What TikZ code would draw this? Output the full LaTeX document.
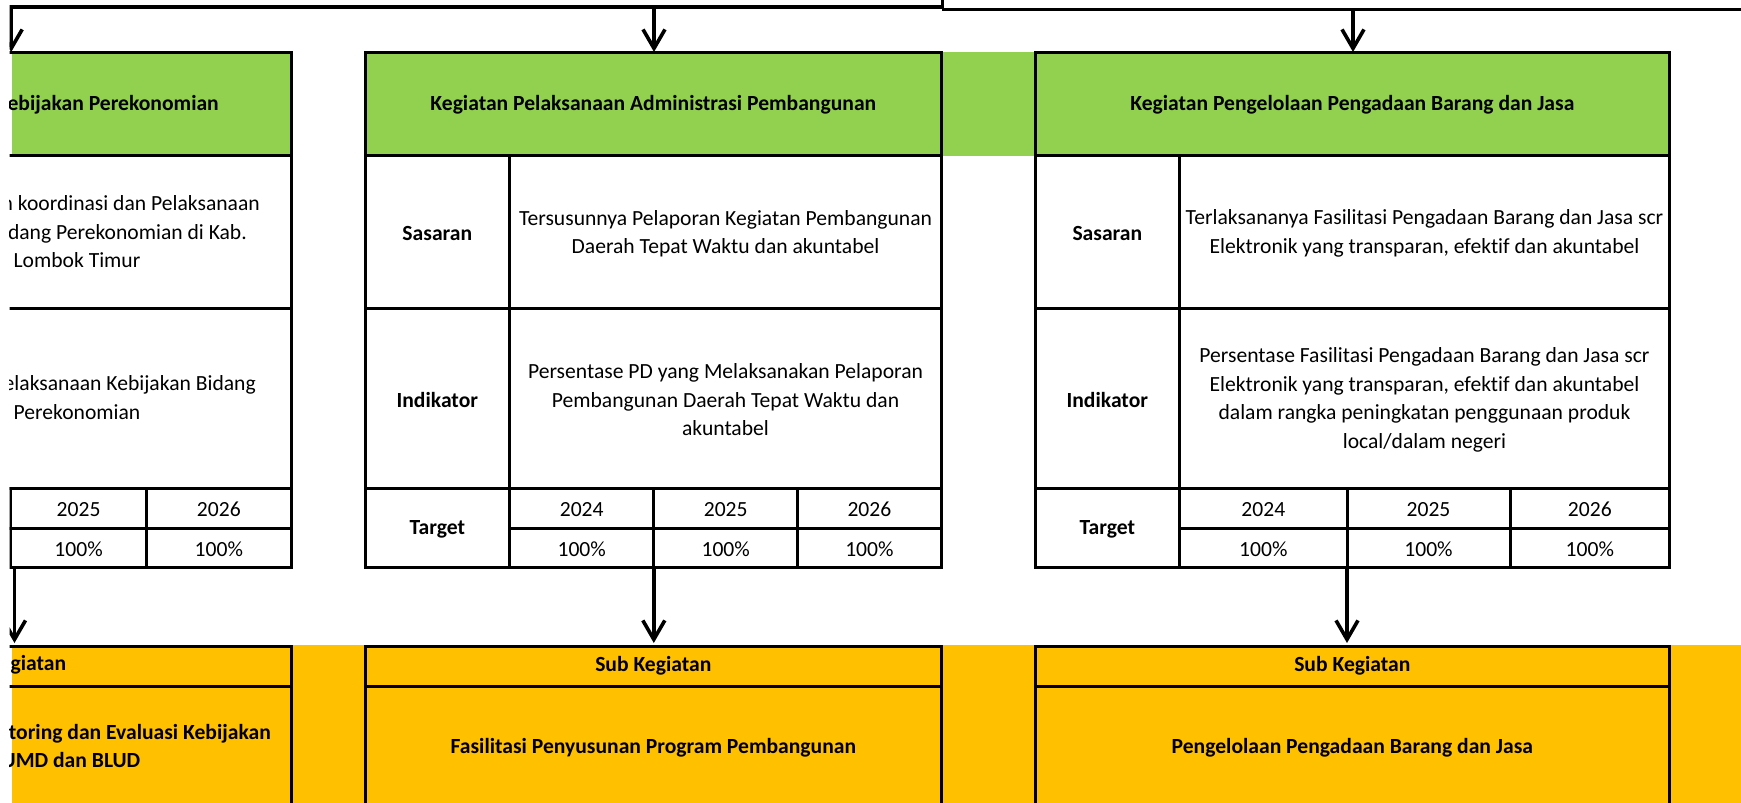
\documentclass[tikz,border=0pt]{standalone}
\usepackage{fontspec}
\setmainfont{Carlito}[Ligatures=NoCommon]
\usetikzlibrary{arrows.meta}
\definecolor{hdrgreen}{RGB}{146,208,80}
\definecolor{subgold}{RGB}{255,192,0}
\tikzset{
  txt/.style={font=\fontsize{21.6}{28.5}\selectfont, inner sep=0pt, align=center, text=black},
  btxt/.style={txt, font=\fontsize{21.6}{28.5}\selectfont\bfseries},
  grid/.style={line width=3pt, line cap=rect, draw=black},
  link/.style={line width=3.6pt, draw=black},
  arr/.style={link, -{Straight Barb[length=19pt,width=22pt]}},
}
\begin{document}
\begin{tikzpicture}[x=1pt,y=-1pt]
\useasboundingbox (0,0) rectangle (1741,803);
\begin{scope}
\clip (9.5,0) rectangle (1741,803);
% ---------- fills
\fill[hdrgreen] (11.5,52.3) rectangle (291,155.5);
\fill[hdrgreen] (365,52.3) rectangle (1669.5,155.5);
\fill[subgold] (11.5,645) rectangle (1741,850);
% ---------- column 1 grid (cut off on the left)
\draw[grid] (-300,52.3) -| (291,567) -- (10.7,567) -- (10.7,488.5);
\draw[grid] (-300,155.5) -- (291,155.5);
\draw[grid] (-300,308.7) -- (291,308.7);
\draw[grid] (-300,488.5) -- (291,488.5);
\draw[grid] (10.7,528) -- (291,528);
\draw[grid] (146.6,488.5) -- (146.6,567);
% ---------- column 2 grid
\draw[grid] (365,52.3) rectangle (941.3,567);
\draw[grid] (365,155.5) -- (941.3,155.5);
\draw[grid] (365,308.7) -- (941.3,308.7);
\draw[grid] (365,488.5) -- (941.3,488.5);
\draw[grid] (509.6,528) -- (941.3,528);
\draw[grid] (509.6,155.5) -- (509.6,567);
\draw[grid] (653.8,488.5) -- (653.8,567);
\draw[grid] (797.5,488.5) -- (797.5,567);
% ---------- column 3 grid
\draw[grid] (1035,52.3) rectangle (1669.5,567);
\draw[grid] (1035,155.5) -- (1669.5,155.5);
\draw[grid] (1035,308.7) -- (1669.5,308.7);
\draw[grid] (1035,488.5) -- (1669.5,488.5);
\draw[grid] (1179.6,528) -- (1669.5,528);
\draw[grid] (1179.6,155.5) -- (1179.6,567);
\draw[grid] (1347,488.5) -- (1347,567);
\draw[grid] (1510,488.5) -- (1510,567);
% ---------- sub kegiatan boxes
\draw[grid] (-300,646) -| (291,850);
\draw[grid] (-300,686.5) -- (291,686.5);
\draw[grid] (365,850) |- (941.3,646) -- (941.3,850);
\draw[grid] (365,686.5) -- (941.3,686.5);
\draw[grid] (1035,850) |- (1669.5,646) -- (1669.5,850);
\draw[grid] (1035,686.5) -- (1669.5,686.5);
% ---------- column 1 texts
\node[btxt, anchor=east] (h1) at (219,104.5) {ebijakan Perekonomian};
\node[txt, anchor=base east] (s1a) at (260,210.5) {n koordinasi dan Pelaksanaan};
\node[txt, anchor=base east] (s1b) at (247,239) {dang Perekonomian di Kab.};
\node[txt, anchor=base east] (s1c) at (140.6,267.5) {Lombok Timur};
\node[txt, anchor=base east] (i1a) at (256,390.7) {elaksanaan Kebijakan Bidang};
\node[txt, anchor=base east] (i1b) at (140.5,419.3) {Perekonomian};
\node[txt] (y1b) at (78.6,509.5) {2025};
\node[txt] (y1c) at (218.8,509.5) {2026};
\node[txt] (p1b) at (78.6,549) {100\%};
\node[txt] (p1c) at (218.8,549) {100\%};
\node[btxt, anchor=base east] (sk1) at (66.3,670) {giatan};
\node[btxt, anchor=base east] (sv1a) at (271,739.5) {toring dan Evaluasi Kebijakan};
\node[btxt, anchor=base east] (sv1b) at (140.5,767.5) {UMD dan BLUD};
% ---------- column 2 texts
\node[btxt] (h2) at (653.3,104.5) {Kegiatan Pelaksanaan Administrasi Pembangunan};
\node[btxt] (s2l) at (437.3,233.5) {Sasaran};
\node[txt] (s2v) at (725.5,233.5) {Tersusunnya Pelaporan Kegiatan Pembangunan\\Daerah Tepat Waktu dan akuntabel};
\node[btxt] (i2l) at (437.3,400) {Indikator};
\node[txt] (i2v) at (725.5,400) {Persentase PD yang Melaksanakan Pelaporan\\Pembangunan Daerah Tepat Waktu dan\\akuntabel};
\node[btxt] (t2l) at (437.3,529) {Target};
\node[txt] (y2a) at (581.7,509.5) {2024};
\node[txt] (y2b) at (725.7,509.5) {2025};
\node[txt] (y2c) at (869.4,509.5) {2026};
\node[txt] (p2a) at (581.7,549) {100\%};
\node[txt] (p2b) at (725.7,549) {100\%};
\node[txt] (p2c) at (869.4,549) {100\%};
\node[btxt] (sk2) at (653.3,666) {Sub Kegiatan};
\node[btxt] (sv2) at (653.3,747.5) {Fasilitasi Penyusunan Program Pembangunan};
% ---------- column 3 texts
\node[btxt] (h3) at (1352.3,104.5) {Kegiatan Pengelolaan Pengadaan Barang dan Jasa};
\node[btxt] (s3l) at (1107.3,233.5) {Sasaran};
\node[txt] (s3v) at (1424.5,233.5) {Terlaksananya Fasilitasi Pengadaan Barang dan Jasa scr\\Elektronik yang transparan, efektif dan akuntabel};
\node[btxt] (i3l) at (1107.3,400) {Indikator};
\node[txt] (i3v) at (1424.5,400) {Persentase Fasilitasi Pengadaan Barang dan Jasa scr\\Elektronik yang transparan, efektif dan akuntabel\\dalam rangka peningkatan penggunaan produk\\local/dalam negeri};
\node[btxt] (t3l) at (1107.3,529) {Target};
\node[txt] (y3a) at (1263.3,509.5) {2024};
\node[txt] (y3b) at (1428.5,509.5) {2025};
\node[txt] (y3c) at (1589.8,509.5) {2026};
\node[txt] (p3a) at (1263.3,549) {100\%};
\node[txt] (p3b) at (1428.5,549) {100\%};
\node[txt] (p3c) at (1589.8,549) {100\%};
\node[btxt] (sk3) at (1352.3,666) {Sub Kegiatan};
\node[btxt] (sv3) at (1352.3,747.5) {Pengelolaan Pengadaan Barang dan Jasa};
% ---------- connectors
\coordinate (feed) at (942.3,0);
\coordinate (hubL) at (942.3,7);
\coordinate (hubR) at (942.3,9.3);
\coordinate (farR) at (1741,9.3);
\coordinate (inA) at (11.2,52);
\coordinate (inB) at (654,52);
\coordinate (inC) at (1353,52);
\coordinate (forkB) at (654,7);
\coordinate (forkC) at (1353,9.3);
\draw[link] (feed) -- (hubR);
\draw[link] (hubR) -- (farR);
\draw[arr] (hubL) -| (inA);
\draw[arr] (forkB) -- (inB);
\draw[arr] (forkC) -- (inC);
\coordinate (outA) at (14.5,567);
\coordinate (subA) at (14.5,643);
\coordinate (outB) at (653.8,567);
\coordinate (subB) at (653.8,643);
\coordinate (outC) at (1347,567);
\coordinate (subC) at (1347,643);
\draw[arr] (outA) -- (subA);
\draw[arr] (outB) -- (subB);
\draw[arr] (outC) -- (subC);
\end{scope}
\end{tikzpicture}
\end{document}
